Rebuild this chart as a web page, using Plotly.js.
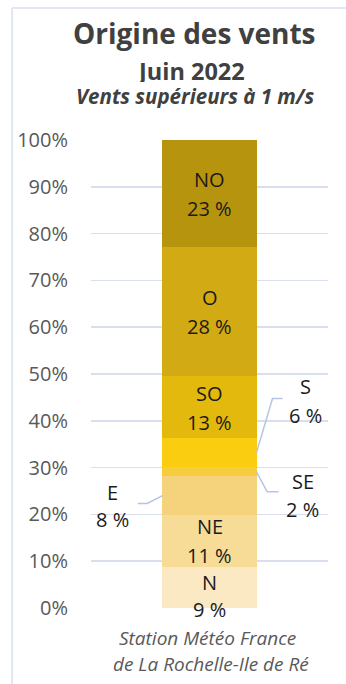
<!DOCTYPE html>
<html>
<head>
<meta charset="utf-8">
<script src="https://cdn.plot.ly/plotly-3.0.1.min.js"></script>
<style>html,body{margin:0;padding:0;background:#fff;}</style>
</head>
<body>
<div id="chart" style="width:346px;height:684px;"></div>
<script>
// ---- data (bottom to top of the stack) ----
const directions = ['N', 'NE', 'E', 'SE', 'S', 'SO', 'O', 'NO'];
const shares = [8.8, 11.1, 8.2, 2.0, 6.2, 13.3, 27.6, 22.8];
const yTicks = [0, 10, 20, 30, 40, 50, 60, 70, 80, 90, 100];
const titleLines = ['Origine des vents', 'Juin 2022', 'Vents supérieurs à 1 m/s'];
const sourceLines = ['Station Météo France', 'de La Rochelle-Ile de Ré'];

// ---- styles ----
const colors = {
  N: '#FAE9C2', NE: '#F7DC98', E: '#F4D37C', SE: '#F6CD3C', S: '#FACD10',
  SO: '#E3B90E', O: '#D2AB14', NO: '#B7940E'
};
const FONT = 'Open Sans, Noto Sans, sans-serif';
const LABEL_SIZE = 20;
// label placement: inside labels centred in their segment, outside labels with leader lines
const labelStyle = {
  N:  {side: 'in', dy: -9, valDy: 2},
  NE: {side: 'in', dy: 1, valDy: 0},
  SO: {side: 'in', dy: 0, valDy: 0},
  O:  {side: 'in', dy: 0, valDy: 0},
  NO: {side: 'in', dy: 0, valDy: 0},
  S:  {side: 'out', dx: 96, nameDy: 67, valDy: 38, path: 'M 47 0 L 63 54 L 73 54'},
  SE: {side: 'out', dx: 93, nameDy: -9, valDy: -37, path: 'M 47 0 L 57.7 -20 L 69 -20'},
  E:  {side: 'out', dx: -97, nameDy: 4, valDy: -23, path: 'M -47 0 L -62.3 -7.7 L -71.7 -7.7'}
};

const traces = directions.map((d, i) => ({
  type: 'bar',
  name: d,
  x: [0],
  y: [shares[i]],
  width: 0.4,
  marker: {color: colors[d], line: {width: 0}},
  hoverinfo: 'name+y'
}));

const annotations = [];
const shapes = [];
let cum = 0;
directions.forEach((d, i) => {
  const mid = cum + shares[i] / 2;
  cum += shares[i];
  const st = labelStyle[d];
  const valTxt = Math.round(shares[i]) + ' %';
  const fnt = {family: FONT, size: LABEL_SIZE, color: '#1A1A1A'};
  const base = {x: 0, y: mid, xref: 'x', yref: 'y', showarrow: false, font: fnt,
    xanchor: 'center', yanchor: 'middle', height: 24};
  if (st.side === 'in') {
    annotations.push(Object.assign({}, base, {text: d, yshift: 14 + st.dy}));
    annotations.push(Object.assign({}, base, {text: valTxt, yshift: -15 + st.dy + st.valDy}));
  } else {
    annotations.push(Object.assign({}, base, {text: d, xshift: st.dx, yshift: st.nameDy}));
    annotations.push(Object.assign({}, base, {text: valTxt, xshift: st.dx, yshift: st.valDy}));
    shapes.push({type: 'path', xref: 'x', yref: 'y', xsizemode: 'pixel', ysizemode: 'pixel',
      xanchor: 0, yanchor: mid, path: st.path, line: {color: '#B4C4E6', width: 1.5}});
  }
});

// titles
const titleFonts = [
  {family: FONT, size: 28, color: '#404040', weight: 'bold'},
  {family: FONT, size: 23.5, color: '#404040', weight: 'bold'},
  {family: FONT, size: 20.5, color: '#404040', weight: 'bold', style: 'italic'}
];
const titleY = [1.2285, 1.1475, 1.0945];
const titleX = [0.4346, 0.421, 0.443];
const titleH = [36, 22, 24];
titleLines.forEach((t, i) => {
  annotations.push({xref: 'paper', yref: 'paper', x: titleX[i], y: titleY[i], text: t,
    showarrow: false, xanchor: 'center', yanchor: 'middle', font: titleFonts[i], height: titleH[i]});
});
const srcY = [-0.0625, -0.1185];
const srcX = [0.491, 0.505];
sourceLines.forEach((t, i) => {
  annotations.push({xref: 'paper', yref: 'paper', x: srcX[i], y: srcY[i], text: t,
    showarrow: false, xanchor: 'center', yanchor: 'middle', height: 25,
    font: {family: FONT, size: 19, color: '#595959', style: 'italic'}});
});

// frame lines
shapes.push({type: 'line', xref: 'paper', yref: 'paper', x0: -0.333, x1: -0.333, y0: 1.282, y1: -0.2,
  line: {color: '#D9DFEF', width: 1.5}});
shapes.push({type: 'line', xref: 'paper', yref: 'paper', x0: -0.333, x1: 1.2, y0: 1.282, y1: 1.282,
  line: {color: '#D9DFEF', width: 1.5}});

const layout = {
  width: 346, height: 684,
  margin: {l: 91, r: 18, t: 140, b: 76, pad: 0},
  paper_bgcolor: '#FFFFFF', plot_bgcolor: '#FFFFFF',
  barmode: 'stack',
  showlegend: false,
  font: {family: FONT, color: '#595959'},
  xaxis: {range: [-0.5, 0.5], showticklabels: false, showgrid: false, zeroline: false,
    showline: false, fixedrange: true},
  yaxis: {range: [0, 100], tickvals: yTicks, ticktext: yTicks.map(v => v + '%'),
    showgrid: true, gridcolor: '#D9DFEF', gridwidth: 1.5, zeroline: false, showline: false,
    ticks: '', ticklabelstandoff: 22,
    tickfont: {family: FONT, size: 20, color: '#595959'}},
  annotations: annotations,
  shapes: shapes
};

Plotly.newPlot('chart', traces, layout, {displayModeBar: false, staticPlot: true});
</script>
</body>
</html>
